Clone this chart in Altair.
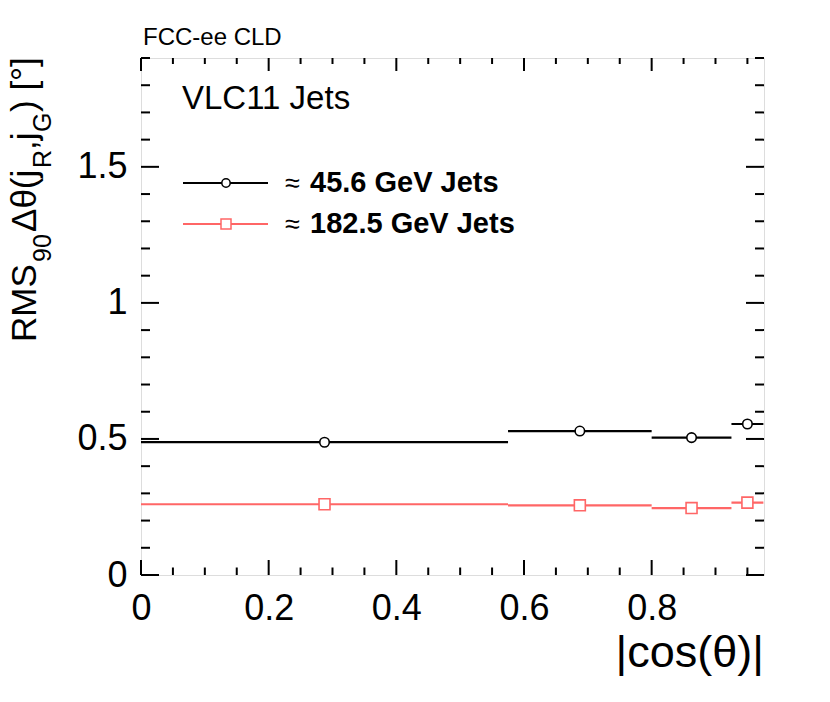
import altair as alt
import pandas as pd

# ---------------- data ----------------
bin_lo = [0.0, 0.575, 0.800, 0.925]
bin_hi = [0.575, 0.800, 0.925, 0.975]
bin_center = [0.2875, 0.6875, 0.8625, 0.950]
rms_45 = [0.488, 0.529, 0.505, 0.555]
rms_182 = [0.260, 0.256, 0.246, 0.266]

x_major = [0.0, 0.2, 0.4, 0.6, 0.8]
x_minor = [0.05, 0.1, 0.15, 0.25, 0.3, 0.35, 0.45, 0.5, 0.55,
           0.65, 0.7, 0.75, 0.85, 0.9, 0.95]
y_major = [0.0, 0.5, 1.0, 1.5]
y_minor = [0.1, 0.2, 0.3, 0.4, 0.6, 0.7, 0.8, 0.9,
           1.1, 1.2, 1.3, 1.4, 1.6, 1.7, 1.8, 1.9]

BLACK = "#000000"
RED = "#ff6666"
FONT = "Liberation Sans"

W, H = 623, 517
xsc = alt.Scale(domain=[0, 0.976], nice=False, zero=False)
ysc = alt.Scale(domain=[0, 1.9], nice=False, zero=False)

XAX = alt.Axis(values=x_major, format="~g", domain=False, ticks=False, grid=False,
               labelFont=FONT, labelFontSize=36, labelColor="black",
               labelPadding=16, labelFlush=False, labelOverlap=False, title="")
YAX = alt.Axis(values=y_major, format="~g", domain=False, ticks=False, grid=False,
               labelFont=FONT, labelFontSize=36, labelColor="black",
               labelPadding=14, labelFlush=False, labelOverlap=False, title="")


def X(f):
    return alt.X(f, scale=xsc, axis=XAX, title="")


def Y(f):
    return alt.Y(f, scale=ysc, axis=YAX, title="")


df = pd.DataFrame({
    "lo": bin_lo * 2,
    "hi": bin_hi * 2,
    "c": bin_center * 2,
    "v": rms_45 + rms_182,
    "s": ["45"] * 4 + ["182"] * 4,
})
d45 = df[df.s == "45"]
d182 = df[df.s == "182"]

# ---------------- inward ticks ----------------
def xticks(vals, length, top):
    y0 = 0 if top else H
    y1 = length if top else H - length
    return alt.Chart(pd.DataFrame({"t": vals})).mark_rule(color="black", strokeWidth=2).encode(
        x=X("t:Q"), y=alt.value(y0), y2=alt.value(y1))


def yticks(vals, length, right):
    x0 = W if right else 0
    x1 = W - length if right else length
    return alt.Chart(pd.DataFrame({"t": vals})).mark_rule(color="black", strokeWidth=2).encode(
        y=Y("t:Q"), x=alt.value(x0), x2=alt.value(x1))


ticks = [
    xticks(x_major, 15, False), xticks(x_minor, 7.5, False),
    xticks(x_major, 13, True), xticks(x_minor, 6, True),
    yticks(y_major, 18, False), yticks(y_minor, 9, False),
    yticks(y_major, 18, True), yticks(y_minor, 9, True),
]

# ---------------- data marks ----------------
def bars(d, color):
    return alt.Chart(d).mark_rule(color=color, strokeWidth=2.2).encode(
        x=X("lo:Q"), x2="hi:Q", y=Y("v:Q"))


pts45 = alt.Chart(d45).mark_point(shape="circle", size=90, filled=True, fill="white",
                                  stroke=BLACK, strokeWidth=1.6, opacity=1).encode(
    x=X("c:Q"), y=Y("v:Q"))
pts182 = alt.Chart(d182).mark_point(shape="square", size=120, filled=True, fill="white",
                                    stroke=RED, strokeWidth=1.6, opacity=1).encode(
    x=X("c:Q"), y=Y("v:Q"))

# ---------------- annotations ----------------
one = pd.DataFrame({"a": [0]})


def txt(s, x, y, size, weight="normal", angle=0, align="left", font=FONT):
    kw = dict(text=s, font=font, fontSize=size, fontWeight=weight, align=align,
              baseline="alphabetic", color="black")
    if angle:
        kw["angle"] = angle
    return alt.Chart(one).mark_text(**kw).encode(x=alt.value(x), y=alt.value(y))


annots = [
    txt("FCC-ee CLD", 2, -13, 24),
    txt("VLC11 Jets", 41, 51, 33),
    txt("|cos(θ)|", W, 609, 45, align="right"),
    # y title pieces (rotated)
    txt("RMS", -105, 284, 35, angle=270),
    txt("90", -90, 204, 25, angle=270),
    txt("Δθ(j", -105, 174, 35, angle=270),
    txt("R", -90, 110, 25, angle=270),
    txt(",j", -105, 92, 35, angle=270),
    txt("G", -90, 74, 25, angle=270),
    txt(") [°]", -105, 54, 35, angle=270),
    # legend texts
    txt("≈", 144, 134, 27),
    txt("45.6 GeV Jets", 169, 133.5, 29, weight="bold"),
    txt("≈", 144, 175, 27),
    txt("182.5 GeV Jets", 169, 174.5, 29, weight="bold"),
]

leg = [
    alt.Chart(one).mark_rule(color=BLACK, strokeWidth=2.2).encode(
        x=alt.value(42), x2=alt.value(127), y=alt.value(125)),
    alt.Chart(one).mark_rule(color=RED, strokeWidth=2.2).encode(
        x=alt.value(42), x2=alt.value(127), y=alt.value(166)),
    alt.Chart(one).mark_point(shape="circle", size=70, filled=True, fill="white",
                              stroke=BLACK, strokeWidth=1.5, opacity=1).encode(
        x=alt.value(85), y=alt.value(125)),
    alt.Chart(one).mark_point(shape="square", size=100, filled=True, fill="white",
                              stroke=RED, strokeWidth=1.5, opacity=1).encode(
        x=alt.value(85), y=alt.value(166)),
]

chart = alt.layer(
    *ticks,
    bars(d45, BLACK), bars(d182, RED), pts45, pts182,
    *leg, *annots,
).properties(
    width=W, height=H,
    autosize=alt.AutoSizeParams(type="none"),
    padding={"left": 133, "top": 50, "right": 50, "bottom": 110},
).configure_view(
    stroke="black", strokeWidth=2.5
).configure(background="white")

chart.save("out.html", embed_options={"renderer": "svg", "actions": False})
